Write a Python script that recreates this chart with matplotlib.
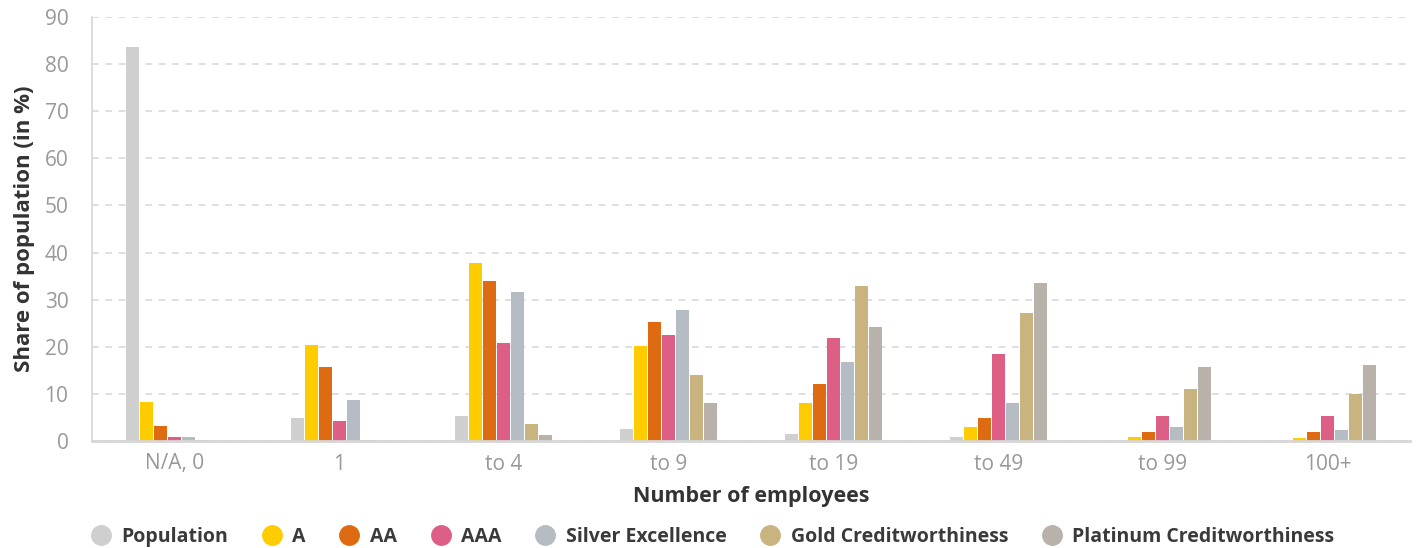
import matplotlib.pyplot as plt
import numpy as np

# Share of population (%) by number of employees and rating class
categories = ['N/A, 0', '1', 'to 4', 'to 9', 'to 19', 'to 49', 'to 99', '100+']
population = [83.7, 4.9, 5.3, 2.5, 1.5, 0.85, 0.1, 0.05]
rating_a = [8.3, 20.4, 37.7, 20.2, 8.1, 3.0, 0.85, 0.6]
rating_aa = [3.2, 15.7, 34.0, 25.3, 12.1, 4.9, 1.9, 1.9]
rating_aaa = [0.85, 4.3, 20.8, 22.5, 21.9, 18.5, 5.3, 5.3]
silver = [0.8, 8.7, 31.7, 27.9, 16.8, 8.1, 3.0, 2.3]
gold = [0.3, 0.3, 3.6, 14.0, 33.0, 27.2, 11.0, 10.0]
platinum = [0.1, 0.05, 1.3, 8.1, 24.3, 33.6, 15.7, 16.2]

series_names = ['Population', 'A', 'AA', 'AAA', 'Silver Excellence',
                'Gold Creditworthiness', 'Platinum Creditworthiness']
series_values = [population, rating_a, rating_aa, rating_aaa, silver, gold, platinum]
colors = ['#cfcfcf', '#ffcc00', '#de6b12', '#de5f85', '#b6bcc4', '#c9b37f', '#b8b2aa']

plt.rcParams['font.family'] = ['Open Sans', 'DejaVu Sans']

fig = plt.figure(figsize=(14.2, 5.48), dpi=100)
ax = fig.add_axes([92 / 1420, 1 - 441 / 548, 1318 / 1420, 424 / 548])

x = np.arange(len(categories))
step = 0.085
width = 0.079
n = len(series_names)
for k, (name, vals, col) in enumerate(zip(series_names, series_values, colors)):
    offs = (k - (n - 1) / 2) * step
    ax.bar(x + offs, vals, width=width, color=col, label=name, zorder=3)

ax.set_xlim(-0.5, len(categories) - 0.5)
ax.set_ylim(0, 90)
ax.set_yticks(np.arange(0, 91, 10))
ax.set_xticks(x)
ax.set_xticklabels(categories)

ax.yaxis.grid(True, color='#d9d9d9', linestyle=(0, (4, 4)), linewidth=1.2, zorder=0)
for s in ['top', 'right']:
    ax.spines[s].set_visible(False)
ax.spines['left'].set_color('#d6d6d6')
ax.spines['left'].set_linewidth(1.2)
ax.spines['bottom'].set_color('#d6d6d6')
ax.spines['bottom'].set_linewidth(2)
ax.spines['bottom'].set_zorder(4)
ax.tick_params(axis='both', length=0, labelsize=15, labelcolor='#999999')
ax.tick_params(axis='x', pad=9)
ax.tick_params(axis='y', pad=17)

ax.set_xlabel('Number of employees', fontsize=15.5, fontweight='bold', color='#333333', labelpad=8)
ax.set_ylabel('Share of population (in %)', fontsize=16, fontweight='bold', color='#333333', labelpad=7)

handles = [plt.Line2D([], [], marker='o', linestyle='', markersize=14, color=c) for c in colors]
leg = fig.legend(handles, series_names, loc='center', bbox_to_anchor=(708 / 1420, 1 - 537 / 548),
                 ncol=n, frameon=False, handletextpad=0.05, columnspacing=1.25,
                 prop={'weight': 'bold', 'size': 14})
for t in leg.get_texts():
    t.set_color('#3a3a3a')

fig.savefig('out.png', dpi=100)
